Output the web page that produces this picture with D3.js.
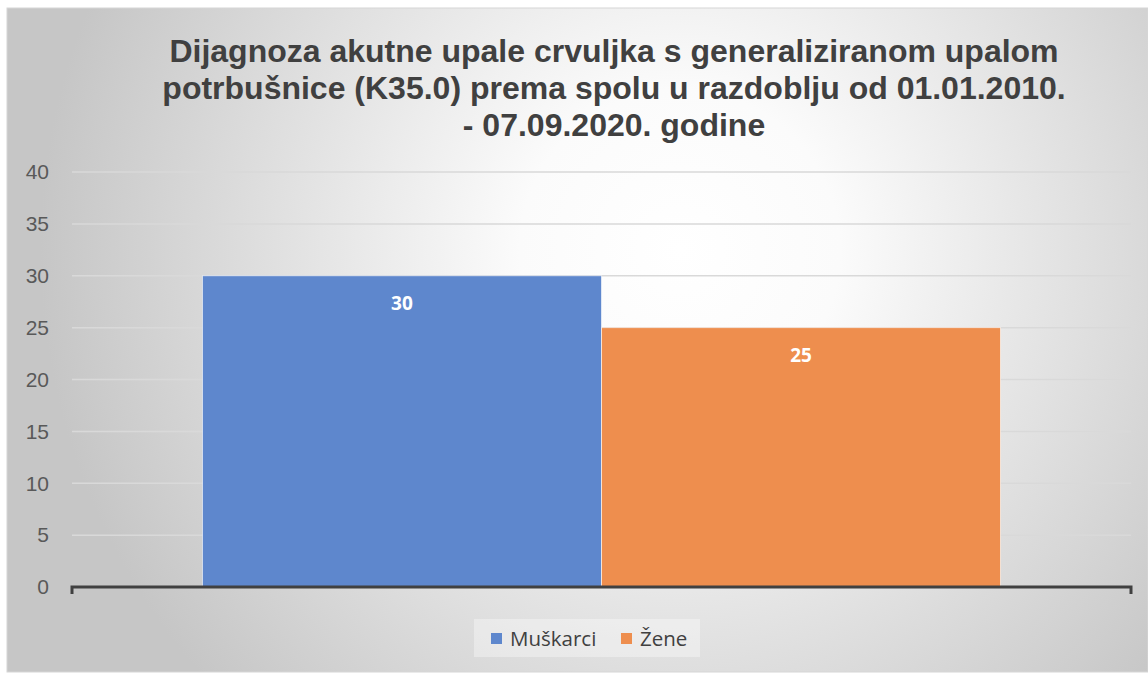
<!DOCTYPE html>
<html>

<head>
    <meta charset="utf-8">
    <title>Dijagnoza K35.0 prema spolu</title>
    <script src="https://d3js.org/d3.v7.min.js"></script>
    <style>
        body { margin: 0; background: #ffffff; }
    </style>
</head>

<body>

    <svg width="1148" height="673" id="mainSvg"></svg>
    <script>
        // podaci
        const series = ["Muškarci", "Žene"];
        const values = [30, 25];
        const colors = ["#5e87cd", "#ee8e4e"];
        const yTicks = [0, 5, 10, 15, 20, 25, 30, 35, 40];
        const titleLines = [
            "Dijagnoza akutne upale crvuljka s generaliziranom upalom",
            "potrbušnice (K35.0) prema spolu u razdoblju od 01.01.2010.",
            "- 07.09.2020. godine"
        ];

        const svg = d3.select("#mainSvg");
        const width = +svg.attr("width");
        const height = +svg.attr("height");

        const margin = { left: 72, right: 1131, top: 172, bottom: 587 };
        const font = "'Liberation Sans', Arial, sans-serif";

        // pozadina s radijalnim prijelazom
        const defs = svg.append("defs");
        const grad = defs.append("radialGradient")
            .attr("id", "bgGrad")
            .attr("gradientUnits", "userSpaceOnUse")
            .attr("cx", 680).attr("cy", 250).attr("r", 640);
        grad.append("stop").attr("offset", "0").attr("stop-color", "#ffffff");
        grad.append("stop").attr("offset", "0.25").attr("stop-color", "#fbfbfb");
        grad.append("stop").attr("offset", "1").attr("stop-color", "#c6c6c6");

        svg.append("rect")
            .attr("x", 7).attr("y", 8)
            .attr("width", width - 7).attr("height", 664)
            .attr("fill", "url(#bgGrad)")
            .attr("stroke", "#d6d6d6")
            .attr("stroke-width", 1);

        const x = d3.scaleBand()
            .domain(series)
            .range([margin.left, margin.right])
            .paddingInner(0)
            .paddingOuter(0.327);

        const y = d3.scaleLinear()
            .domain([0, 40])
            .range([margin.bottom, margin.top]);

        // mreža
        svg.append("g")
            .selectAll("line")
            .data(yTicks.filter(d => d > 0))
            .join("line")
            .attr("x1", margin.left).attr("x2", margin.right)
            .attr("y1", d => y(d)).attr("y2", d => y(d))
            .attr("stroke", "#d9d9d9")
            .attr("stroke-width", 1.5);

        // oznake osi y
        svg.append("g")
            .selectAll("text")
            .data(yTicks)
            .join("text")
            .attr("x", 49)
            .attr("y", d => y(d))
            .attr("dy", "0.35em")
            .attr("text-anchor", "end")
            .attr("font-family", font)
            .attr("font-size", 21)
            .attr("fill", "#595959")
            .text(d => d);

        // stupci
        svg.append("g")
            .selectAll("rect")
            .data(series)
            .join("rect")
            .attr("x", d => x(d))
            .attr("y", (d, i) => y(values[i]))
            .attr("width", x.bandwidth())
            .attr("height", (d, i) => y(0) - y(values[i]))
            .attr("fill", (d, i) => colors[i])
            .attr("stroke", "rgba(255,255,255,0.6)")
            .attr("stroke-width", 1);

        // vrijednosti
        svg.append("g")
            .selectAll("text")
            .data(series)
            .join("text")
            .attr("x", d => x(d) + x.bandwidth() / 2)
            .attr("y", (d, i) => y(values[i]) + 34)
            .attr("text-anchor", "middle")
            .attr("font-family", "'Open Sans', sans-serif")
            .attr("font-weight", "bold")
            .attr("font-size", 19)
            .attr("fill", "#ffffff")
            .text((d, i) => values[i]);

        // os x
        const axisPath = `M${margin.left},${y(0) + 7}V${y(0)}H${margin.right}V${y(0) + 7}`;
        svg.append("path")
            .attr("d", axisPath)
            .attr("fill", "none")
            .attr("stroke", "#404040")
            .attr("stroke-width", 3);

        // naslov
        svg.append("g")
            .selectAll("text")
            .data(titleLines)
            .join("text")
            .attr("x", 614)
            .attr("y", (d, i) => 62 + i * 37)
            .attr("text-anchor", "middle")
            .attr("font-family", font)
            .attr("font-weight", "bold")
            .attr("font-size", 32)
            .attr("fill", "#404040")
            .text(d => d);

        // legenda
        const legend = svg.append("g");
        legend.append("rect")
            .attr("x", 474).attr("y", 619)
            .attr("width", 226).attr("height", 38)
            .attr("fill", "#ffffff").attr("opacity", 0.35);

        const legendX = [491, 621];
        const items = legend.selectAll("g")
            .data(series)
            .join("g")
            .attr("transform", (d, i) => `translate(${legendX[i]},633)`);
        items.append("rect")
            .attr("width", 11).attr("height", 11)
            .attr("fill", (d, i) => colors[i]);
        items.append("text")
            .attr("x", 19).attr("y", 5.5)
            .attr("dy", "0.35em")
            .attr("font-family", "'Open Sans', sans-serif")
            .attr("font-size", 20.5)
            .attr("fill", "#404040")
            .text(d => d);
    </script>
</body>

</html>
